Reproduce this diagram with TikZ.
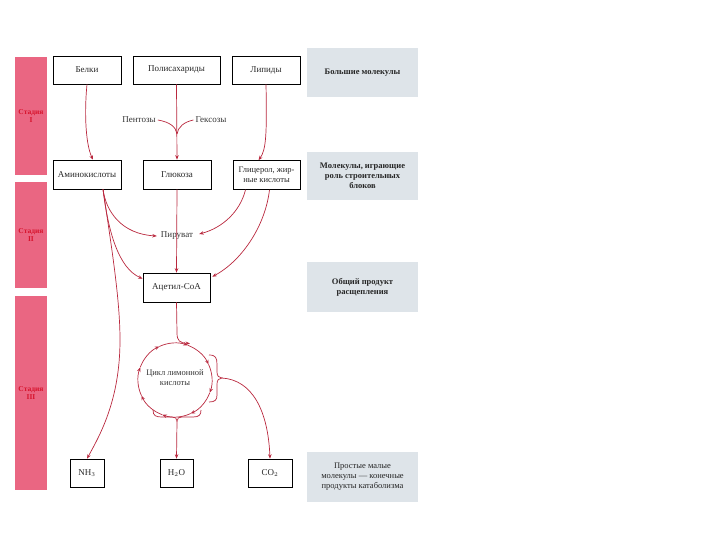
\documentclass[tikz,border=0pt]{standalone}
\usepackage{fontspec}
\setmainfont{Liberation Serif}
\usetikzlibrary{arrows.meta,calc}
\definecolor{arr}{RGB}{185,40,62}
\definecolor{barpink}{RGB}{234,102,130}
\definecolor{bartext}{RGB}{215,20,45}
\definecolor{infobg}{RGB}{222,228,233}
\begin{document}
\begin{tikzpicture}[x=1pt,y=-1pt,
  box/.style={draw=black, line width=0.6pt, inner sep=1pt, align=center,
    font=\fontsize{9}{10}\selectfont, text=black!85},
  info/.style={fill=infobg, minimum width=111pt, inner sep=1pt, align=center,
    font=\fontsize{8.5}{10}\selectfont, text=black!85},
  bar/.style={fill=barpink, minimum width=32pt, inner sep=0pt, align=center,
    font=\fontsize{7.5}{8.5}\selectfont\bfseries, text=bartext},
  lbl/.style={inner sep=1pt, font=\fontsize{9}{10}\selectfont, text=black!80},
  con/.style={draw=arr, line width=0.7pt, -{Stealth[length=4.5pt,width=3.5pt]}},
  ln/.style={draw=arr, line width=0.7pt}]
\useasboundingbox (0,0) rectangle (720,540);

% stage bars
\node[bar, minimum height=118pt] (s1) at (31,116) {Стадия\\I};
\node[bar, minimum height=106pt] (s2) at (31,235) {Стадия\\II};
\node[bar, minimum height=194pt] (s3) at (31,393) {Стадия\\III};

% info boxes
\node[info, minimum height=49pt] (i1) at (362.5,72.5) {\bfseries Большие молекулы};
\node[info, minimum height=48pt] (i2) at (362.5,176) {\bfseries Молекулы, играющие\\\bfseries роль строительных\\\bfseries блоков};
\node[info, minimum height=50pt] (i3) at (362.5,287) {\bfseries Общий продукт\\\bfseries расщепления};
\node[info, minimum height=50pt] (i4) at (362.5,477) {Простые малые\\молекулы — конечные\\продукты катаболизма};

% top row
\node[box, minimum width=68pt, minimum height=28pt] (belki) at (87,70) {Белки};
\node[box, minimum width=87pt, minimum height=28pt] (poly) at (176.5,70) {Полисахариды};
\node[box, minimum width=68pt, minimum height=28pt] (lip) at (266,70) {Липиды};

% second row
\node[box, minimum width=68pt, minimum height=29pt] (amino) at (87,174.5) {Аминокислоты};
\node[box, minimum width=68pt, minimum height=29pt] (glu) at (177,174.5) {Глюкоза};
\node[box, minimum width=67pt, minimum height=29pt, font=\fontsize{8.5}{9.5}\selectfont] (glyc) at (266.5,175) {Глицерол, жир-\\ные кислоты};

\node[lbl, inner sep=2pt] (pent) at (139,120) {Пентозы};
\node[lbl, inner sep=2pt] (hex) at (211,120) {Гексозы};
\coordinate (merge) at (177,134);

\node[lbl, inner sep=4pt] (pyr) at (177,236) {Пируват};
\node[box, minimum width=67pt, minimum height=29pt] (acet) at (176.5,287.5) {Ацетил-СоА};

% cycle
\coordinate (cyc) at (175,380);
\node[lbl, align=center, font=\fontsize{8.5}{10}\selectfont] (cyctext) at (175,378) {Цикл лимонной\\кислоты};

% bottom row
\node[box, minimum width=34pt, minimum height=28pt] (nh3) at (87,473) {NH$_3$};
\node[box, minimum width=33pt, minimum height=28pt] (h2o) at (176.5,473) {H$_2$O};
\node[box, minimum width=44pt, minimum height=28pt] (co2) at (270,473) {CO$_2$};

% stage I connectors
\draw[con] (belki.south) .. controls (84,115) and (86,145) .. ($(amino.north)+(6,0)$);
\draw[con] (poly.south) -- (glu.north);
\draw[ln] (pent.east) .. controls (170,122) and (176,127) .. (merge);
\draw[ln] (hex.west) .. controls (184,122) and (178,127) .. (merge);
\draw[con] (lip.south) .. controls (267,135) and (266,150) .. ($(glyc.north)+(-8,0)$);

% stage II connectors
\coordinate (aout) at ($(amino.south)+(16,0)$);
\draw[con] (aout) .. controls (106,212) and (122,234) .. (pyr.west);
\draw[con] (aout) .. controls (108,230) and (118,268) .. ($(acet.north west)+(0,6)$);
\draw[con] ($(glyc.south)+(-21,0)$) .. controls (240,212) and (222,228) .. ($(pyr.east)+(2,-2)$);
\draw[con] ($(glyc.south)+(3,0)$) .. controls (265,228) and (240,262) .. ($(acet.north east)+(2,4)$);
\draw[con] (glu.south) -- (acet.north);

% NH3 long connector
\draw[con] (aout) .. controls (112,250) and (120,300) .. (120,340)
  .. controls (120,400) and (100,435) .. (nh3.north);

% acetyl into cycle
\draw[con] (acet.south) -- (177,333) .. controls (177,341) and (180,343) .. (190,343.5);

% cycle arcs
\foreach \a in {-115,-70,-25,20,65,110,155,200}
  \draw[con] ($(cyc)+(\a:37)$) arc[start angle=\a, end angle=\a+45, radius=37];

% right brace and CO2
\coordinate (rb) at (222,378);
\draw[ln] (209,355) .. controls (216,355) and (217,358) .. (217,365) -- (217,372)
  .. controls (217,376) and (219,378) .. (rb)
  .. controls (219,378) and (217,380) .. (217,384) -- (217,395)
  .. controls (217,400) and (215,402) .. (209,402);
\draw[con] (rb) .. controls (252,380) and (268,410) .. (co2.north);

% bottom brace and H2O
\coordinate (bb) at (177,421);
\draw[ln] (153,410) .. controls (153,416) and (156,417) .. (162,417) -- (172,417)
  .. controls (175,417) and (177,418) .. (bb)
  .. controls (177,418) and (179,417) .. (182,417) -- (193,417)
  .. controls (199,417) and (201,415) .. (201,410);
\draw[con] (bb) -- (h2o.north);
\end{tikzpicture}
\end{document}
